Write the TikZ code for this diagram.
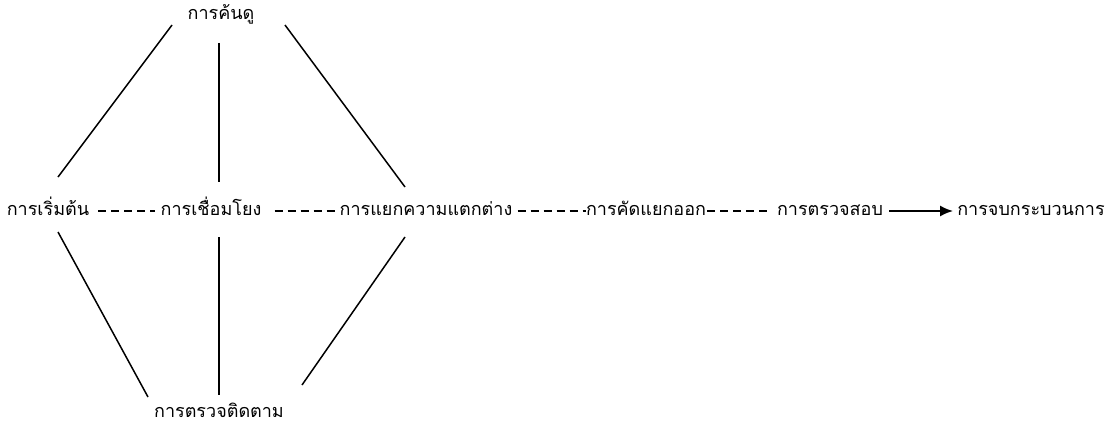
\documentclass[tikz,border=0pt]{standalone}
\usepackage{fontspec}
\newfontfamily\thaifont[Script=Thai]{Loma}
\usepackage{tikz}
\usetikzlibrary{calc}
\usetikzlibrary{arrows.meta}
\tikzset{>=stealth}
\tikzset{
  stage/.style={font=\thaifont\fontsize{18}{20}\selectfont, inner sep=0pt, text height=13pt, text depth=4pt},
  link/.style={line width=1.5pt},
  dashlink/.style={line width=1.5pt, dash pattern=on 8pt off 5pt},
}

\begin{document}
\begin{tikzpicture}[x=1pt,y=-1pt]
    \useasboundingbox (0,0) rectangle (1116,428);
    \node[stage] (search) at (221,15) {การค้นดู};
    \node[stage] (begin) at (48,211) {การเริ่มต้น};
    \node[stage] (connect) at (211,211) {การเชื่อมโยง};
    \node[stage] (diff) at (426,211) {การแยกความแตกต่าง};
    \node[stage] (sortout) at (646,211) {การคัดแยกออก};
    \node[stage] (check) at (830,211) {การตรวจสอบ};
    \node[stage] (finish) at (1031,211) {การจบกระบวนการ};
    \node[stage] (track) at (219,413) {การตรวจติดตาม};
    % hexagon of lines
    \path[link]
      ($(search)+(-49,10)$) edge ($(begin)+(10,-34)$)
      ($(search)+(-2,28)$) edge ($(connect)+(8,-29)$)
      ($(search)+(64,10)$) edge ($(diff)+(-21,-24)$)
      ($(begin)+(10,21)$) edge ($(track)+(-71,-16)$)
      ($(connect)+(8,26)$) edge ($(track)+(0,-18)$)
      ($(diff)+(-21,26)$) edge ($(track)+(83,-28)$);
    % main row
    \path[dashlink]
      ($(begin.east)+(9,0)$) edge ($(connect.west)+(-5,0)$)
      ($(connect.east)+(13,0)$) edge ($(diff.west)+(-3,0)$)
      ($(diff.east)+(5,0)$) edge (sortout.west)
      ($(sortout.east)+(1,0)$) edge ($(check.west)+(-8,0)$);
    \draw[line width=2pt,-{Latex[length=13pt,width=11pt]}] ($(check.east)+(6,0)$) -- ($(finish.west)+(-4,0)$);
\end{tikzpicture}
\end{document}
